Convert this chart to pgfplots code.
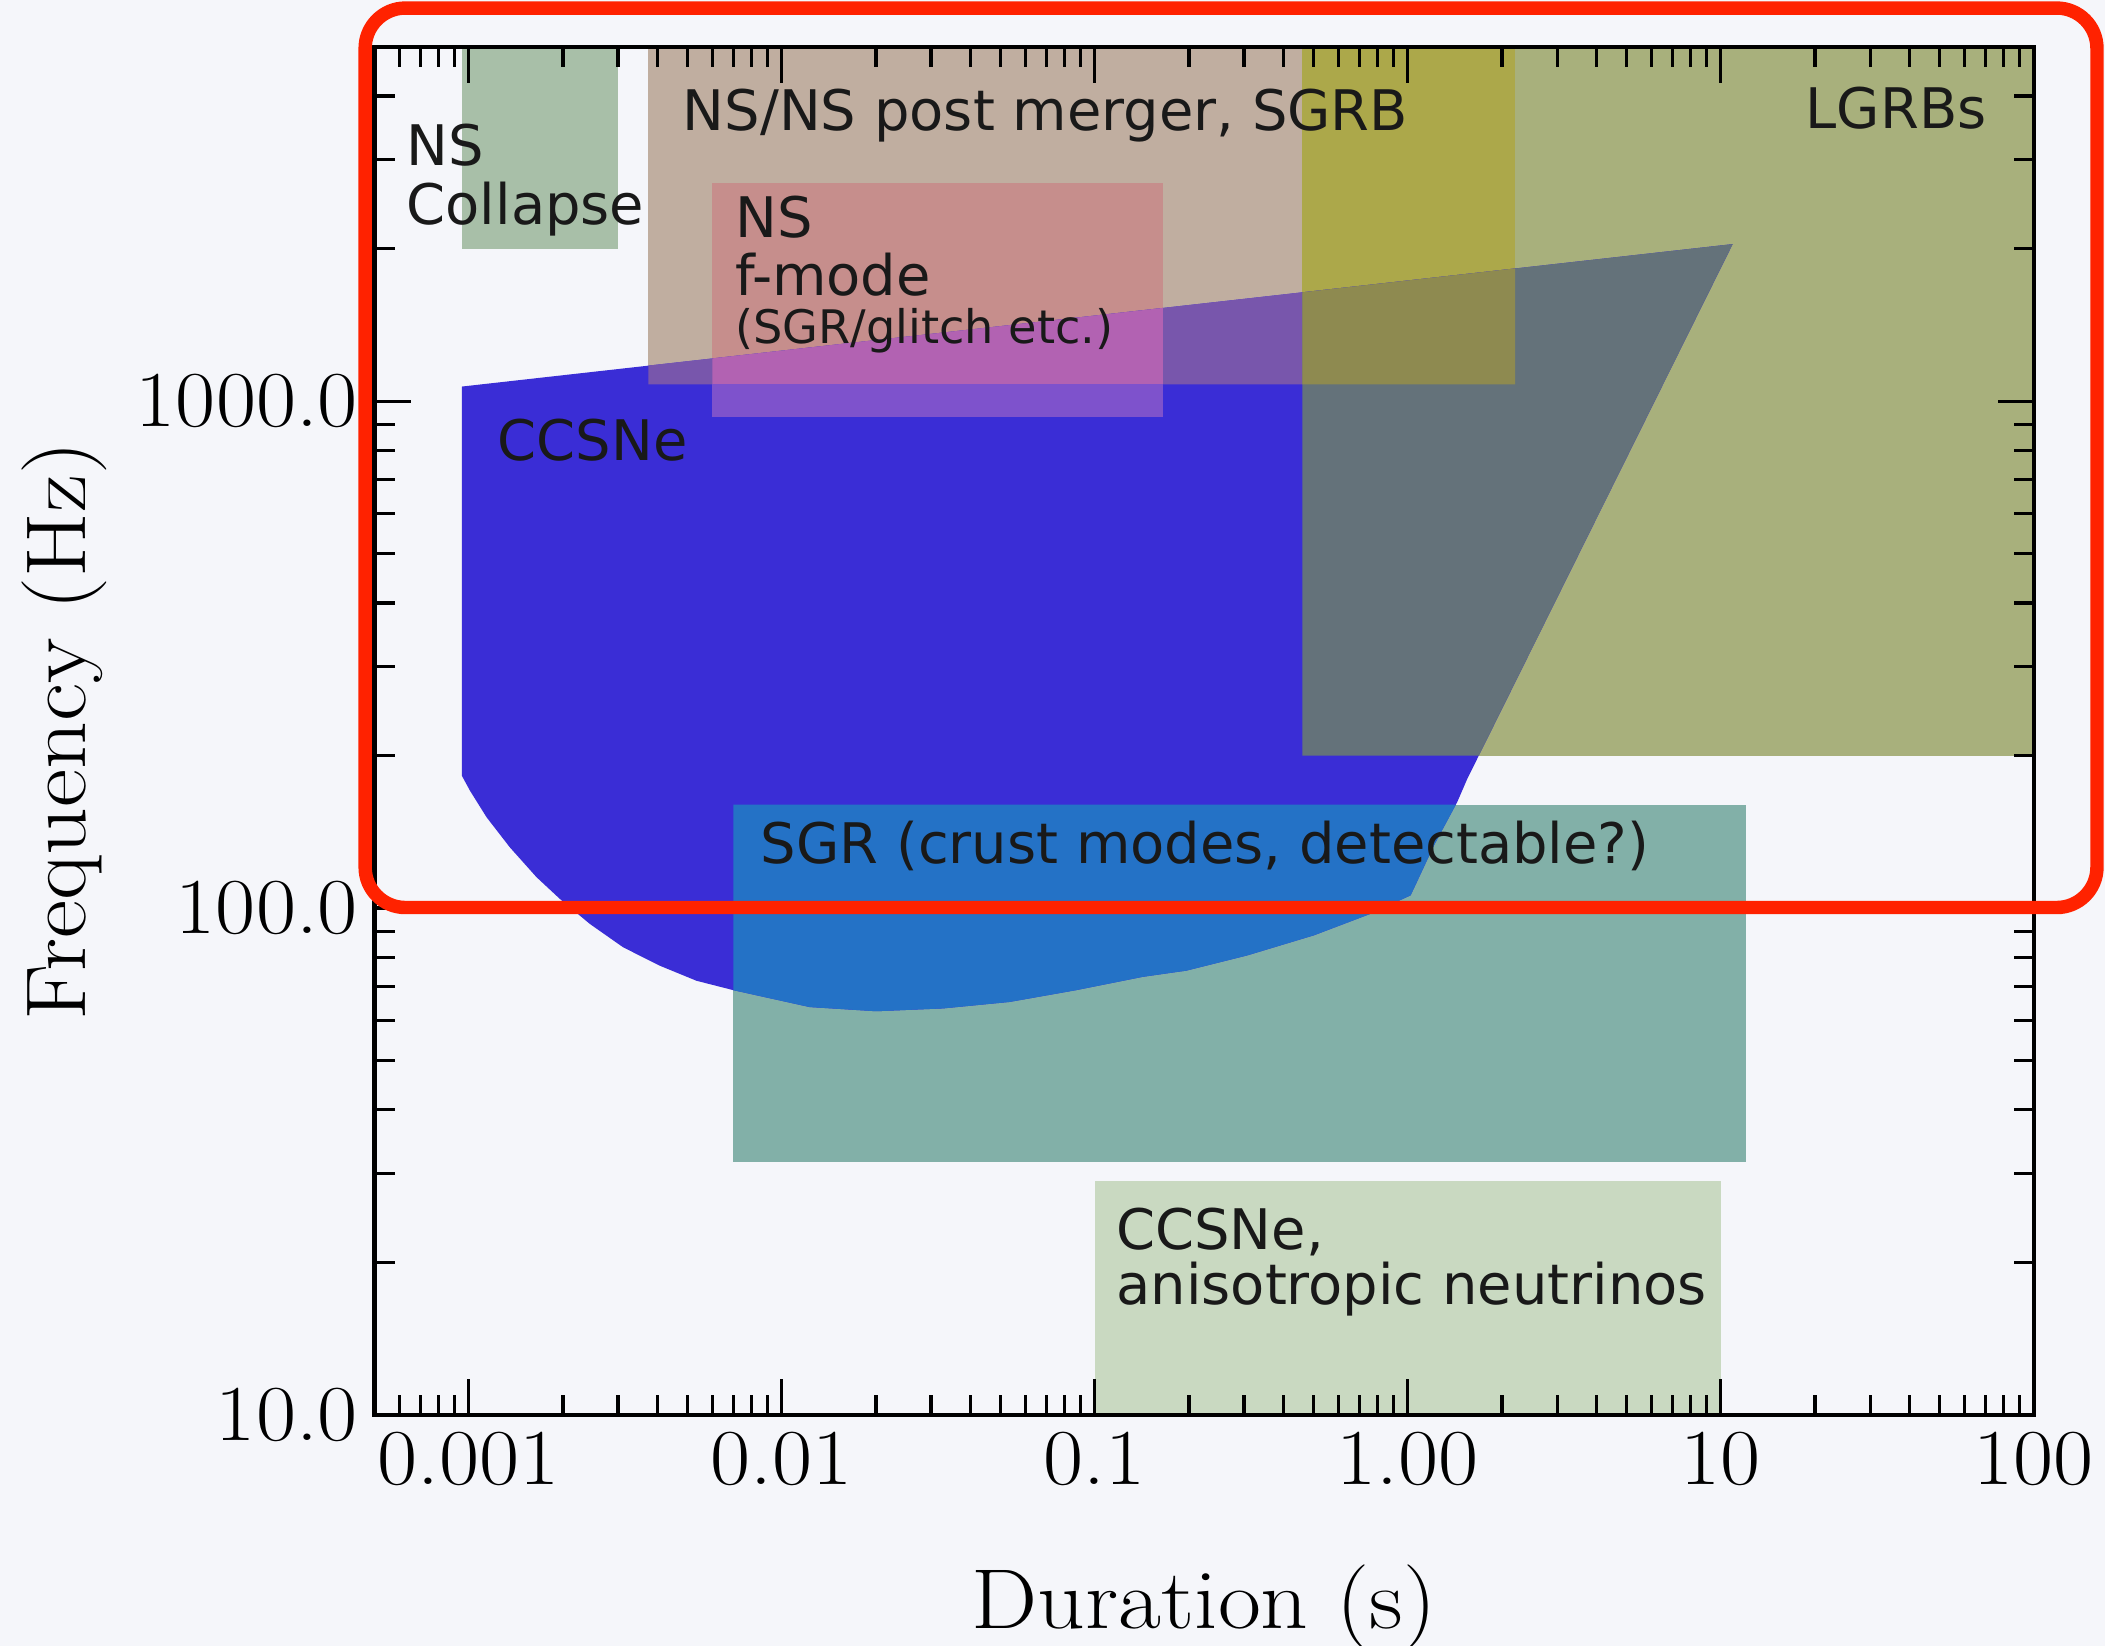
\documentclass[border=0pt]{standalone}
\usepackage{fontspec}
\setmainfont{Latin Modern Roman}[FakeStretch=1.1]
\usepackage{pgfplots}
\pgfplotsset{compat=1.18}
\newfontfamily\djv{DejaVu Sans}

\definecolor{bgc}{HTML}{F5F6FA}
\definecolor{ccsn}{HTML}{3A2DD6}
\definecolor{nscol}{HTML}{A8BFA8}
\definecolor{nsns}{HTML}{C0AEA0}
\definecolor{nsnsB}{HTML}{7856AC}
\definecolor{fmode}{HTML}{C68E8C}
\definecolor{fmodeNB}{HTML}{B262B2}
\definecolor{fmodeB}{HTML}{7E52CC}
\definecolor{lgrb}{HTML}{A8B07C}
\definecolor{lgrbB}{HTML}{64727A}
\definecolor{nsnslg}{HTML}{ACA84A}
\definecolor{nsnslgB}{HTML}{8E8A50}
\definecolor{sgr}{HTML}{82B0A8}
\definecolor{sgrB}{HTML}{2472C6}
\definecolor{aniso}{HTML}{C9D9C1}
\definecolor{hilite}{HTML}{FF2200}

\tikzset{lab/.style={anchor=base west, text=black!90, inner sep=0pt,
    font=\djv\fontsize{11.85}{12}\selectfont}}

\begin{document}
\begin{tikzpicture}
\path[use as bounding box] (-2.79,-1.72) rectangle (12.89,10.54);
\fill[bgc] (-2.79,-1.72) rectangle (12.89,10.54);

\begin{axis}[
    scale only axis,
    width=12.36cm, height=10.19cm,
    xmode=log, ymode=log,
    xmin=0.0005, xmax=100,
    ymin=10, ymax=5000,
    xtick={0.001,0.01,0.1,1,10,100},
    xticklabels={0.001,0.01,0.1,1.00,10,100},
    ytick={10,100,1000},
    yticklabels={10.0,100.0,1000.0},
    minor xtick={0.0006,0.0007,0.0008,0.0009,
        0.002,0.003,0.004,0.005,0.006,0.007,0.008,0.009,
        0.02,0.03,0.04,0.05,0.06,0.07,0.08,0.09,
        0.2,0.3,0.4,0.5,0.6,0.7,0.8,0.9,
        2,3,4,5,6,7,8,9,20,30,40,50,60,70,80,90},
    minor ytick={20,30,40,50,60,70,80,90,200,300,400,500,600,700,800,900,
        2000,3000,4000},
    tick align=inside,
    major tick length=0.27cm,
    minor tick length=0.15cm,
    every tick/.style={black, line width=0.7pt},
    axis line style={line width=0.9pt},
    axis on top,
    axis background/.style={fill=bgc},
    tick label style={font=\fontsize{16.8}{16.8}\selectfont},
    xlabel={Duration (s)},
    ylabel={Frequency (Hz)},
    xlabel style={at={(axis description cs:0.5,-0.156)}, anchor=base,
        font=\fontsize{18}{18}\selectfont},
    ylabel style={at={(axis description cs:-0.187,0.5)}, anchor=center,
        font=\fontsize{18}{18}\selectfont},
]

% plain regions
\addplot[fill=nscol, draw=none] coordinates {(0.00095,2000) (0.003,2000) (0.003,5000) (0.00095,5000)} -- cycle;
\addplot[fill=nsns, draw=none] coordinates {(0.00375,1080) (2.2,1080) (2.2,5000) (0.00375,5000)} -- cycle;
\addplot[fill=lgrb, draw=none] coordinates {(0.46,200) (100,200) (100,5000) (0.46,5000)} -- cycle;
\addplot[fill=sgr, draw=none] coordinates {(0.007,31.5) (12,31.5) (12,160) (0.007,160)} -- cycle;
\addplot[fill=aniso, draw=none] coordinates {(0.1,10) (10,10) (10,29) (0.1,29)} -- cycle;
\addplot[fill=nsnslg, draw=none] coordinates {(0.46,1080) (2.2,1080) (2.2,5000) (0.46,5000)} -- cycle;
\addplot[fill=fmode, draw=none] coordinates {(0.006,930) (0.165,930) (0.165,2700) (0.006,2700)} -- cycle;

% CCSNe region
\addplot[fill=ccsn, draw=none] coordinates {
    (0.00095,1069) (10.91,2042) (1.550,180.1) (1.439,162.0) (1.212,133.0)
    (1.021,106.0) (0.7615,97.5) (0.5016,88.4) (0.3075,80.7) (0.1964,75.3)
    (0.1424,73.2) (0.0872,68.9) (0.0534,65.3) (0.03272,63.4) (0.02003,62.6)
    (0.01228,63.8) (0.007,68.9) (0.005338,71.9) (0.004076,77.0) (0.003113,83.7)
    (0.002435,93.1) (0.001954,104.3) (0.001646,115.1) (0.001353,131.8)
    (0.001140,151.1) (0.001009,170.5) (0.00095,182.6)} -- cycle;

% overlaps with CCSNe
\addplot[fill=nsnsB, draw=none] coordinates {(0.00375,1176) (2.2,1828) (2.2,1080) (0.00375,1080)} -- cycle;
\addplot[fill=lgrbB, draw=none] coordinates {(0.46,1640) (10.91,2042) (1.686,200) (0.46,200)} -- cycle;
\addplot[fill=nsnslgB, draw=none] coordinates {(0.46,1640) (2.2,1828) (2.2,1080) (0.46,1080)} -- cycle;
\addplot[fill=fmodeNB, draw=none] coordinates {(0.006,1215) (0.165,1528) (0.165,1080) (0.006,1080)} -- cycle;
\addplot[fill=fmodeB, draw=none] coordinates {(0.006,930) (0.165,930) (0.165,1080) (0.006,1080)} -- cycle;
\addplot[fill=sgrB, draw=none] coordinates {
    (0.007,160) (1.4235,160) (1.212,133.0)
    (1.021,106.0) (0.7615,97.5) (0.5016,88.4) (0.3075,80.7) (0.1964,75.3)
    (0.1424,73.2) (0.0872,68.9) (0.0534,65.3) (0.03272,63.4) (0.02003,62.6)
    (0.01228,63.8) (0.007,68.9)} -- cycle;

% labels
\node[lab] at (axis cs:0.000629,2924) {NS};
\node[lab] at (axis cs:0.000629,2237) {Collapse};
\node[lab] at (axis cs:0.0048,3428) {NS/NS post merger, SGRB};
\node[lab] at (axis cs:0.00706,2105) {NS};
\node[lab] at (axis cs:0.00706,1619) {f-mode};
\node[lab, font=\djv\fontsize{9.8}{10}\selectfont] at (axis cs:0.00706,1300) {(SGR/glitch etc.)};
\node[lab, anchor=base east] at (axis cs:71.1,3449) {LGRBs};
\node[lab] at (axis cs:0.00123,764) {CCSNe};
\node[lab] at (axis cs:0.00851,122.7) {SGR (crust modes, detectable?)};
\node[lab] at (axis cs:0.1164,21.2) {CCSNe,};
\node[lab] at (axis cs:0.1164,16.5) {anisotropic neutrinos};
\end{axis}

% highlight frame
\draw[hilite, line width=0.1cm, rounded corners=0.3cm] (-0.07,3.78) rectangle (12.83,10.48);
\end{tikzpicture}
\end{document}
